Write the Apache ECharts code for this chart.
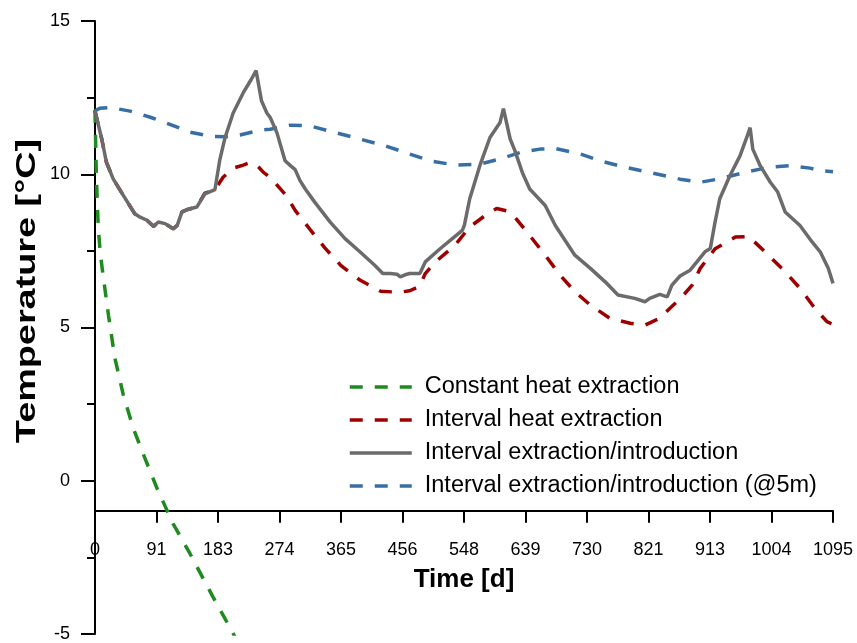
<!DOCTYPE html>
<html>
<head>
<meta charset="utf-8">
<script src="https://cdn.jsdelivr.net/npm/echarts@6/dist/echarts.min.js"></script>
<style>
  html, body { margin: 0; padding: 0; background: #fff; }
  #chart { width: 857px; height: 643px; }
</style>
</head>
<body>
<div id="chart"></div>
<script>
// days / temperatures
var constDays = [0, 1, 2, 3.5, 5, 8, 12, 20, 29.5, 42, 57, 72, 91.5, 116, 141, 175, 205, 212];
var constTemp = [12.1, 11.0, 10.0, 9.0, 8.2, 7.4, 6.7, 5.4, 4.0, 2.8, 1.7, 0.85, -0.22, -1.41, -2.38, -3.79, -4.98, -5.3];

var intDays = [0, 10, 17, 27, 42, 59, 67, 77, 87, 94, 104, 116, 122, 129, 136, 151, 163, 178, 190, 205, 220, 230, 240, 250, 260, 276, 284, 297, 319, 341, 365, 393, 424, 452, 467, 482, 490, 505, 534, 556, 586, 596, 612, 623, 645, 668, 690, 712, 735, 764, 794, 816, 838, 853, 868, 886, 898, 920, 950, 970, 994, 1024, 1046, 1068, 1086, 1095];
var intTemp = [12.07, 11.15, 10.39, 9.85, 9.31, 8.71, 8.6, 8.5, 8.3, 8.44, 8.39, 8.22, 8.33, 8.77, 8.84, 8.93, 9.38, 9.5, 9.9, 10.2, 10.3, 10.38, 10.3, 10.06, 9.9, 9.5, 9.3, 8.82, 8.2, 7.6, 7.02, 6.55, 6.18, 6.15, 6.2, 6.35, 6.76, 7.14, 7.68, 8.28, 8.77, 8.88, 8.8, 8.6, 8.0, 7.36, 6.71, 6.17, 5.73, 5.3, 5.14, 5.08, 5.3, 5.63, 5.93, 6.38, 6.93, 7.57, 7.95, 7.97, 7.47, 6.82, 6.28, 5.63, 5.19, 5.1];

var exchDays = [0, 10, 17, 27, 42, 59, 67, 77, 87, 94, 104, 116, 122, 129, 136, 151, 163, 178, 185, 193, 205, 220, 232, 239, 247, 255, 260, 270, 282, 290, 297, 304, 312, 326, 349, 371, 393, 415, 427, 438, 448, 453, 460, 467, 482, 490, 512, 527, 545, 548, 556, 571, 586, 601, 606, 616, 623, 634, 645, 668, 683, 712, 735, 757, 776, 801, 816, 823, 838, 849, 856, 868, 883, 893, 905, 913, 920, 927, 942, 957, 967, 972, 976, 987, 1002, 1013, 1024, 1046, 1064, 1076, 1088, 1095];
var exchTemp = [12.07, 11.15, 10.39, 9.85, 9.31, 8.71, 8.6, 8.5, 8.3, 8.44, 8.39, 8.22, 8.33, 8.77, 8.84, 8.93, 9.36, 9.5, 10.45, 11.2, 12.0, 12.66, 13.1, 13.38, 12.4, 12.0, 11.85, 11.35, 10.44, 10.28, 10.15, 9.8, 9.52, 9.09, 8.44, 7.9, 7.47, 7.03, 6.76, 6.76, 6.74, 6.65, 6.72, 6.76, 6.76, 7.14, 7.57, 7.84, 8.17, 8.33, 9.2, 10.28, 11.2, 11.69, 12.14, 11.15, 10.77, 10.06, 9.52, 8.98, 8.33, 7.36, 6.93, 6.49, 6.06, 5.95, 5.84, 5.95, 6.08, 6.0, 6.38, 6.68, 6.87, 7.14, 7.47, 7.58, 8.44, 9.2, 9.95, 10.6, 11.2, 11.52, 10.82, 10.28, 9.74, 9.42, 8.77, 8.33, 7.79, 7.47, 6.93, 6.44];

var fiveDays = [0, 7, 22, 52, 82, 111, 141, 171, 193, 215, 245, 260, 289, 319, 356, 393, 430, 467, 497, 534, 571, 601, 631, 660, 683, 720, 749, 786, 823, 868, 898, 927, 964, 1001, 1031, 1061, 1076, 1095];
var fiveTemp = [12.07, 12.15, 12.18, 12.06, 11.86, 11.63, 11.37, 11.24, 11.22, 11.28, 11.44, 11.47, 11.6, 11.58, 11.36, 11.15, 10.93, 10.66, 10.44, 10.3, 10.33, 10.5, 10.71, 10.82, 10.84, 10.66, 10.44, 10.23, 10.06, 9.84, 9.74, 9.85, 10.06, 10.23, 10.28, 10.2, 10.12, 10.08];

var seriesNames = ['Constant heat extraction', 'Interval heat extraction', 'Interval extraction/introduction', 'Interval extraction/introduction (@5m)'];

function pairs(d, t) {
  return d.map(function (x, i) { return [x, t[i]]; });
}

var font = '"Liberation Sans", Arial, sans-serif';
var chart = echarts.init(document.getElementById('chart'));

chart.setOption({
  animation: false,
  backgroundColor: '#fff',
  grid: { left: 95, right: 24, top: 21, bottom: 6 },
  legend: {
    orient: 'vertical',
    left: 343,
    top: 370,
    itemWidth: 62,
    itemHeight: 14,
    itemGap: 9,
    // hide the marker circle, keep only the line
    itemStyle: { opacity: 0, color: 'rgba(0,0,0,0)', borderWidth: 0 },
    lineStyle: { width: 3.5 },
    textStyle: { fontFamily: font, fontSize: 23.5, lineHeight: 24, color: '#000', padding: [0, 0, 0, 8] },
    data: seriesNames
  },
  xAxis: {
    type: 'value',
    min: 0,
    max: 1095,
    interval: 91.25,
    position: 'bottom',
    offset: -123.2,
    name: 'Time [d]',
    nameLocation: 'middle',
    nameGap: 56,
    nameTextStyle: { fontFamily: font, fontSize: 26, fontWeight: 'bold', color: '#000' },
    axisLine: { show: true, onZero: false, lineStyle: { color: '#000', width: 2 } },
    axisTick: { show: true, length: 12, lineStyle: { color: '#000', width: 2 } },
    axisLabel: {
      margin: 30, fontFamily: font, fontSize: 18, color: '#000',
      formatter: function (v) { return Math.round(v); }
    },
    splitLine: { show: false }
  },
  yAxis: {
    type: 'value',
    min: -5,
    max: 15,
    interval: 5,
    axisLine: { show: true, lineStyle: { color: '#000', width: 2 } },
    axisTick: { show: true, length: 14, lineStyle: { color: '#000', width: 2 } },
    minorTick: { show: true, splitNumber: 2, length: 8, lineStyle: { color: '#000', width: 2 } },
    axisLabel: { margin: 25, fontFamily: font, fontSize: 18, color: '#000' },
    splitLine: { show: false },
    minorSplitLine: { show: false }
  },
  graphic: [{
    type: 'text',
    x: 28,
    y: 291,
    rotation: Math.PI / 2,
    scaleX: 1.4,
    style: {
      text: 'Temperature [°C]',
      font: 'bold 27px ' + font,
      fill: '#000',
      align: 'center',
      verticalAlign: 'middle',
      textAlign: 'center',
      textVerticalAlign: 'middle'
    }
  }],
  series: [
    {
      name: seriesNames[0], type: 'line', symbol: 'none', clip: true, z: 2,
      data: pairs(constDays, constTemp),
      itemStyle: { color: '#1f8a1f' },
      lineStyle: { color: '#1f8a1f', width: 3.5, type: [13, 12] }
    },
    {
      name: seriesNames[1], type: 'line', symbol: 'none', clip: true, z: 2,
      data: pairs(intDays, intTemp),
      itemStyle: { color: '#9e0000' },
      lineStyle: { color: '#9e0000', width: 3.5, type: [13, 12] }
    },
    {
      name: seriesNames[2], type: 'line', symbol: 'none', clip: true, z: 4,
      data: pairs(exchDays, exchTemp),
      itemStyle: { color: '#6b6b6b' },
      lineStyle: { color: '#6b6b6b', width: 3.5 }
    },
    {
      name: seriesNames[3], type: 'line', symbol: 'none', clip: true, z: 3,
      data: pairs(fiveDays, fiveTemp),
      itemStyle: { color: '#386ea6' },
      lineStyle: { color: '#386ea6', width: 3.5, type: [13, 12] }
    }
  ]
});
</script>
</body>
</html>
